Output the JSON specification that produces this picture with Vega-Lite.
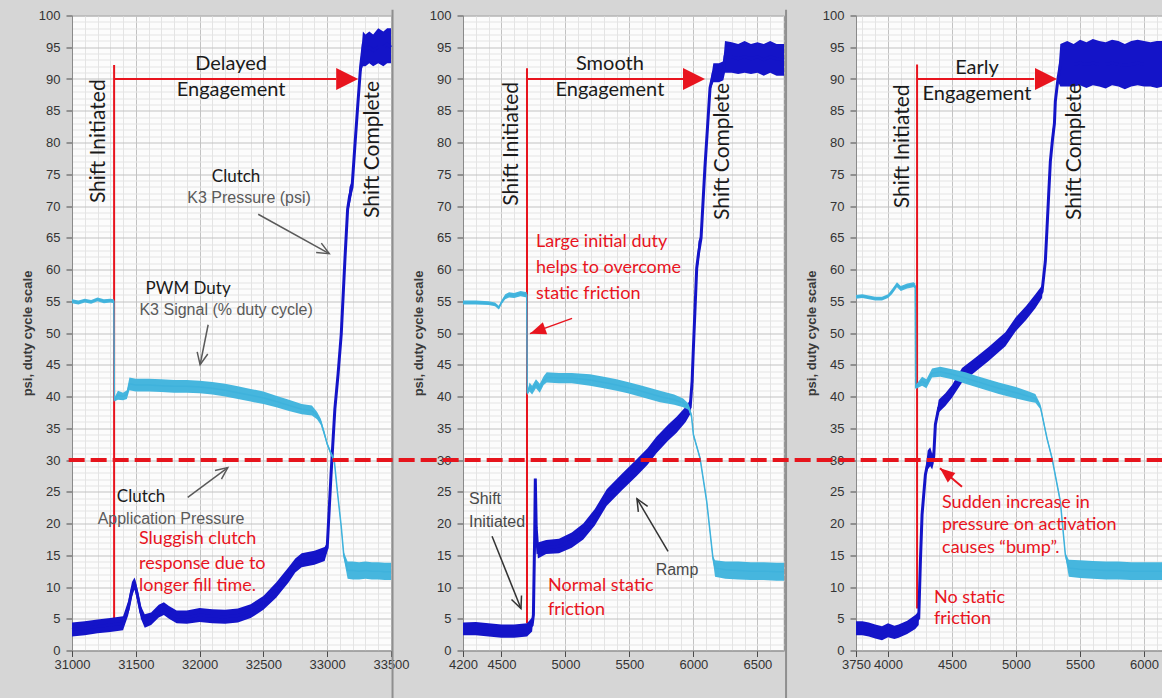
{
"$schema": "https://vega.github.io/schema/vega-lite/v6.json",
"background": "#d6d6d6",
"padding": {"left": 20, "top": 7.5, "right": 0, "bottom": 0},
"spacing": 72,
"bounds": "flush",
"config": {
  "view": {"fill": "#fcfcfc", "stroke": "#9a9a9a", "strokeWidth": 1},
  "axis": {"domainColor": "#8a8a8a", "tickColor": "#4a4a4a", "labelColor": "#333333", "labelFont": "Liberation Sans", "labelFontSize": 13, "titleFont": "Liberation Sans", "titleFontSize": 13, "titleFontWeight": "bold", "titleColor": "#3a3a3a", "labelOverlap": false, "labelFlush": false, "grid": true, "gridWidth": 1, "tickSize": 6},
  "axisY": {"labelPadding": 6, "titlePadding": 4},
  "axisX": {"labelPadding": 2}
},
"datasets": {
"p1p": [
{"x":31000,"y":3.3,"lo":2.2,"hi":4.4},{"x":31100,"y":3.5,"lo":2.4,"hi":4.6},{"x":31200,"y":3.8,"lo":2.7,"hi":4.9},{"x":31300,"y":4.0,"lo":2.9,"hi":5.1},{"x":31400,"y":4.3,"lo":3.2,"hi":5.4},{"x":31440,"y":6.5,"lo":5.5,"hi":7.8},{"x":31470,"y":9.5,"lo":8.5,"hi":10.8},{"x":31490,"y":10.6,"lo":9.6,"hi":11.5},{"x":31510,"y":9.0,"lo":8.0,"hi":10.0},{"x":31540,"y":6.0,"lo":5.0,"hi":7.0},{"x":31570,"y":4.6,"lo":3.6,"hi":5.7},{"x":31620,"y":5.0,"lo":4.0,"hi":6.0},{"x":31680,"y":6.2,"lo":5.2,"hi":7.2},{"x":31720,"y":6.6,"lo":5.6,"hi":7.6},{"x":31760,"y":6.0,"lo":5.0,"hi":7.0},{"x":31820,"y":5.3,"lo":4.3,"hi":6.3},{"x":31900,"y":5.2,"lo":4.2,"hi":6.3},{"x":32000,"y":5.6,"lo":4.5,"hi":6.7},{"x":32100,"y":5.4,"lo":4.3,"hi":6.5},{"x":32200,"y":5.3,"lo":4.2,"hi":6.4},{"x":32300,"y":5.5,"lo":4.4,"hi":6.6},{"x":32400,"y":6.2,"lo":5.1,"hi":7.3},{"x":32500,"y":7.5,"lo":6.4,"hi":8.6},{"x":32600,"y":9.5,"lo":8.3,"hi":10.7},{"x":32700,"y":12.0,"lo":10.8,"hi":13.2},{"x":32750,"y":13.4,"lo":12.3,"hi":14.5},{"x":32800,"y":14.2,"lo":13.1,"hi":15.3},{"x":32900,"y":14.6,"lo":13.5,"hi":15.7},{"x":32980,"y":15.2,"lo":14.1,"hi":16.3},{"x":33000,"y":16.2,"lo":15.5,"hi":17.0},{"x":33030,"y":27.7,"lo":27.2,"hi":28.2},{"x":33060,"y":38.0,"lo":37.5,"hi":38.5},{"x":33085,"y":43.5,"lo":43.0,"hi":44.0},{"x":33110,"y":49.8,"lo":49.3,"hi":50.3},{"x":33140,"y":62.0,"lo":61.5,"hi":62.5},{"x":33160,"y":69.5,"lo":69.0,"hi":70.0},{"x":33175,"y":71.5,"lo":70.0,"hi":73.0},{"x":33195,"y":73.0,"lo":72.0,"hi":74.0},{"x":33214,"y":78.6,"lo":78.1,"hi":79.1},{"x":33240,"y":86.0,"lo":85.5,"hi":86.5},{"x":33262,"y":92.0,"lo":91.0,"hi":93.0},{"x":33280,"y":95.0,"lo":92.0,"hi":97.5},{"x":33300,"y":94.5,"lo":92.0,"hi":97.0},{"x":33330,"y":95.0,"lo":92.5,"hi":97.5},{"x":33360,"y":94.5,"lo":92.0,"hi":97.0},{"x":33400,"y":95.0,"lo":92.5,"hi":98.0},{"x":33440,"y":95.0,"lo":92.0,"hi":97.5},{"x":33470,"y":95.5,"lo":92.5,"hi":98.0},{"x":33500,"y":95.0,"lo":92.5,"hi":98.0}
],
"p1d": [
{"x":31000,"y":55.0,"lo":54.7,"hi":55.3},{"x":31050,"y":54.8,"lo":54.5,"hi":55.1},{"x":31100,"y":55.1,"lo":54.8,"hi":55.4},{"x":31150,"y":54.9,"lo":54.6,"hi":55.2},{"x":31200,"y":55.3,"lo":55.0,"hi":55.6},{"x":31250,"y":55.0,"lo":54.7,"hi":55.3},{"x":31300,"y":55.1,"lo":54.8,"hi":55.4},{"x":31328,"y":55.0,"lo":54.7,"hi":55.3},{"x":31332,"y":39.5,"lo":39.2,"hi":39.8},{"x":31360,"y":40.2,"lo":39.5,"hi":40.9},{"x":31400,"y":40.0,"lo":39.4,"hi":40.6},{"x":31430,"y":40.3,"lo":39.6,"hi":41.0},{"x":31450,"y":42.0,"lo":41.0,"hi":43.0},{"x":31500,"y":41.8,"lo":40.8,"hi":42.8},{"x":31600,"y":41.8,"lo":40.8,"hi":42.8},{"x":31700,"y":41.7,"lo":40.7,"hi":42.7},{"x":31800,"y":41.6,"lo":40.6,"hi":42.6},{"x":31900,"y":41.6,"lo":40.6,"hi":42.6},{"x":32000,"y":41.5,"lo":40.5,"hi":42.5},{"x":32100,"y":41.3,"lo":40.3,"hi":42.3},{"x":32200,"y":41.0,"lo":40.0,"hi":42.0},{"x":32300,"y":40.6,"lo":39.6,"hi":41.6},{"x":32400,"y":40.2,"lo":39.2,"hi":41.2},{"x":32500,"y":39.8,"lo":38.8,"hi":40.8},{"x":32600,"y":39.2,"lo":38.3,"hi":40.1},{"x":32700,"y":38.6,"lo":37.7,"hi":39.5},{"x":32800,"y":38.0,"lo":37.2,"hi":38.8},{"x":32880,"y":37.8,"lo":37.0,"hi":38.6},{"x":32920,"y":37.0,"lo":36.4,"hi":37.6},{"x":32950,"y":36.0,"lo":35.5,"hi":36.5},{"x":32980,"y":34.0,"lo":33.6,"hi":34.4},{"x":33000,"y":32.5,"lo":32.2,"hi":32.8},{"x":33030,"y":31.0,"lo":30.7,"hi":31.3},{"x":33055,"y":30.0,"lo":29.7,"hi":30.3},{"x":33080,"y":25.0,"lo":24.7,"hi":25.3},{"x":33110,"y":19.5,"lo":19.2,"hi":19.8},{"x":33130,"y":15.0,"lo":14.5,"hi":15.5},{"x":33160,"y":12.6,"lo":11.3,"hi":14.0},{"x":33200,"y":12.6,"lo":11.2,"hi":14.0},{"x":33250,"y":12.5,"lo":11.2,"hi":13.9},{"x":33300,"y":12.6,"lo":11.3,"hi":14.0},{"x":33350,"y":12.5,"lo":11.2,"hi":13.9},{"x":33400,"y":12.5,"lo":11.2,"hi":13.9},{"x":33450,"y":12.4,"lo":11.1,"hi":13.8},{"x":33500,"y":12.4,"lo":11.1,"hi":13.8}
],
"p2p": [
{"x":4200,"y":3.4,"lo":2.4,"hi":4.4},{"x":4300,"y":3.4,"lo":2.4,"hi":4.5},{"x":4400,"y":3.2,"lo":2.2,"hi":4.3},{"x":4500,"y":3.0,"lo":2.0,"hi":4.1},{"x":4600,"y":3.0,"lo":2.0,"hi":4.1},{"x":4700,"y":3.2,"lo":2.2,"hi":4.3},{"x":4740,"y":4.0,"lo":3.0,"hi":5.2},{"x":4750,"y":5.6,"lo":5.2,"hi":6.0},{"x":4760,"y":18.0,"lo":17.6,"hi":18.4},{"x":4765,"y":27.1,"lo":26.8,"hi":27.4},{"x":4772,"y":19.3,"lo":18.8,"hi":19.8},{"x":4785,"y":15.5,"lo":14.5,"hi":17.0},{"x":4850,"y":16.2,"lo":15.2,"hi":17.4},{"x":4950,"y":16.4,"lo":15.3,"hi":17.6},{"x":5050,"y":17.3,"lo":16.2,"hi":18.6},{"x":5140,"y":18.7,"lo":17.5,"hi":20.0},{"x":5230,"y":21.0,"lo":19.7,"hi":22.3},{"x":5323,"y":24.0,"lo":22.8,"hi":25.4},{"x":5440,"y":26.5,"lo":25.2,"hi":27.8},{"x":5557,"y":28.8,"lo":27.5,"hi":30.1},{"x":5640,"y":30.5,"lo":29.2,"hi":31.8},{"x":5713,"y":32.4,"lo":31.1,"hi":33.7},{"x":5800,"y":34.2,"lo":33.0,"hi":35.5},{"x":5869,"y":35.5,"lo":34.3,"hi":36.8},{"x":5940,"y":37.2,"lo":36.0,"hi":38.4},{"x":5975,"y":38.3,"lo":37.2,"hi":39.5},{"x":5990,"y":42.4,"lo":41.9,"hi":42.9},{"x":6000,"y":47.6,"lo":47.1,"hi":48.1},{"x":6026,"y":60.2,"lo":59.7,"hi":60.7},{"x":6040,"y":62.5,"lo":61.0,"hi":64.5},{"x":6060,"y":65.0,"lo":64.5,"hi":65.5},{"x":6090,"y":76.0,"lo":75.5,"hi":76.5},{"x":6130,"y":88.6,"lo":88.1,"hi":89.1},{"x":6156,"y":91.0,"lo":89.5,"hi":92.5},{"x":6200,"y":91.0,"lo":89.5,"hi":92.5},{"x":6234,"y":91.3,"lo":89.8,"hi":92.8},{"x":6247,"y":93.5,"lo":91.0,"hi":96.0},{"x":6300,"y":93.5,"lo":91.0,"hi":95.8},{"x":6350,"y":93.2,"lo":90.8,"hi":95.5},{"x":6400,"y":93.5,"lo":91.0,"hi":96.0},{"x":6450,"y":93.2,"lo":90.8,"hi":95.5},{"x":6500,"y":93.5,"lo":91.0,"hi":95.8},{"x":6550,"y":93.0,"lo":90.5,"hi":95.5},{"x":6600,"y":93.5,"lo":91.0,"hi":96.0},{"x":6650,"y":93.2,"lo":90.5,"hi":95.5},{"x":6708,"y":93.0,"lo":90.5,"hi":95.5}
],
"p2d": [
{"x":4200,"y":54.8,"lo":54.5,"hi":55.1},{"x":4300,"y":54.8,"lo":54.5,"hi":55.1},{"x":4400,"y":54.7,"lo":54.4,"hi":55.0},{"x":4450,"y":54.5,"lo":54.2,"hi":54.8},{"x":4480,"y":54.0,"lo":53.7,"hi":54.3},{"x":4500,"y":54.8,"lo":54.5,"hi":55.1},{"x":4530,"y":55.7,"lo":55.3,"hi":56.1},{"x":4560,"y":56.0,"lo":55.6,"hi":56.4},{"x":4600,"y":55.9,"lo":55.5,"hi":56.3},{"x":4650,"y":56.2,"lo":55.8,"hi":56.6},{"x":4698,"y":56.0,"lo":55.6,"hi":56.4},{"x":4702,"y":40.5,"lo":40.2,"hi":40.8},{"x":4720,"y":41.5,"lo":40.8,"hi":42.2},{"x":4740,"y":41.0,"lo":40.3,"hi":41.7},{"x":4770,"y":42.0,"lo":41.3,"hi":42.7},{"x":4800,"y":41.3,"lo":40.6,"hi":42.0},{"x":4830,"y":42.5,"lo":41.8,"hi":43.2},{"x":4854,"y":43.0,"lo":42.2,"hi":43.8},{"x":4950,"y":42.9,"lo":42.1,"hi":43.7},{"x":5050,"y":42.9,"lo":42.1,"hi":43.7},{"x":5192,"y":42.6,"lo":41.7,"hi":43.5},{"x":5300,"y":42.2,"lo":41.3,"hi":43.1},{"x":5400,"y":41.8,"lo":40.9,"hi":42.7},{"x":5487,"y":41.4,"lo":40.5,"hi":42.3},{"x":5600,"y":40.8,"lo":39.9,"hi":41.7},{"x":5739,"y":40.0,"lo":39.1,"hi":40.9},{"x":5850,"y":39.5,"lo":38.7,"hi":40.3},{"x":5920,"y":39.0,"lo":38.3,"hi":39.7},{"x":5961,"y":38.4,"lo":37.9,"hi":38.9},{"x":5985,"y":37.0,"lo":36.6,"hi":37.4},{"x":6000,"y":34.0,"lo":33.7,"hi":34.3},{"x":6052,"y":30.3,"lo":30.0,"hi":30.6},{"x":6104,"y":23.5,"lo":23.2,"hi":23.8},{"x":6153,"y":14.5,"lo":14.1,"hi":14.9},{"x":6169,"y":13.0,"lo":11.6,"hi":14.2},{"x":6250,"y":12.7,"lo":11.3,"hi":14.0},{"x":6350,"y":12.6,"lo":11.2,"hi":14.0},{"x":6450,"y":12.5,"lo":11.1,"hi":13.9},{"x":6550,"y":12.5,"lo":11.1,"hi":13.9},{"x":6650,"y":12.4,"lo":11.0,"hi":13.8},{"x":6708,"y":12.4,"lo":11.0,"hi":13.8}
],
"p3p": [
{"x":3750,"y":3.5,"lo":2.4,"hi":4.6},{"x":3800,"y":3.5,"lo":2.4,"hi":4.6},{"x":3850,"y":3.3,"lo":2.2,"hi":4.4},{"x":3900,"y":3.0,"lo":1.9,"hi":4.1},{"x":3953,"y":2.6,"lo":1.6,"hi":3.8},{"x":4000,"y":3.2,"lo":2.1,"hi":4.3},{"x":4050,"y":2.8,"lo":1.8,"hi":3.9},{"x":4083,"y":3.0,"lo":2.0,"hi":4.1},{"x":4150,"y":3.6,"lo":2.6,"hi":4.7},{"x":4213,"y":4.5,"lo":3.4,"hi":5.6},{"x":4240,"y":5.1,"lo":4.0,"hi":6.2},{"x":4253,"y":14.0,"lo":13.5,"hi":14.5},{"x":4266,"y":21.4,"lo":20.9,"hi":21.9},{"x":4292,"y":27.7,"lo":27.2,"hi":28.2},{"x":4310,"y":29.5,"lo":28.5,"hi":31.5},{"x":4330,"y":30.5,"lo":29.0,"hi":32.0},{"x":4345,"y":30.0,"lo":28.5,"hi":31.0},{"x":4357,"y":30.5,"lo":29.5,"hi":31.5},{"x":4370,"y":35.6,"lo":35.0,"hi":36.2},{"x":4396,"y":38.2,"lo":37.5,"hi":39.5},{"x":4448,"y":39.5,"lo":38.5,"hi":40.5},{"x":4500,"y":40.8,"lo":39.8,"hi":41.8},{"x":4578,"y":43.3,"lo":42.2,"hi":44.5},{"x":4682,"y":45.0,"lo":43.9,"hi":46.1},{"x":4786,"y":46.7,"lo":45.6,"hi":47.8},{"x":4917,"y":49.0,"lo":47.9,"hi":50.1},{"x":4995,"y":51.3,"lo":50.2,"hi":52.4},{"x":5080,"y":53.2,"lo":52.1,"hi":54.3},{"x":5151,"y":55.0,"lo":53.9,"hi":56.1},{"x":5203,"y":56.5,"lo":55.5,"hi":57.5},{"x":5229,"y":61.3,"lo":60.8,"hi":61.8},{"x":5242,"y":66.5,"lo":66.0,"hi":67.0},{"x":5255,"y":71.8,"lo":71.3,"hi":72.3},{"x":5268,"y":77.0,"lo":76.5,"hi":77.5},{"x":5285,"y":80.5,"lo":79.5,"hi":82.0},{"x":5300,"y":83.0,"lo":82.5,"hi":83.5},{"x":5307,"y":86.5,"lo":86.0,"hi":87.0},{"x":5328,"y":90.1,"lo":89.6,"hi":90.6},{"x":5346,"y":92.3,"lo":88.8,"hi":95.5},{"x":5400,"y":92.3,"lo":88.8,"hi":96.0},{"x":5450,"y":92.3,"lo":88.8,"hi":95.5},{"x":5500,"y":92.5,"lo":89.0,"hi":96.2},{"x":5550,"y":92.3,"lo":88.6,"hi":95.8},{"x":5600,"y":92.5,"lo":89.0,"hi":96.3},{"x":5650,"y":92.3,"lo":88.8,"hi":96.0},{"x":5700,"y":92.3,"lo":88.5,"hi":95.8},{"x":5750,"y":92.5,"lo":89.0,"hi":96.2},{"x":5800,"y":92.3,"lo":88.8,"hi":96.0},{"x":5850,"y":92.2,"lo":88.4,"hi":95.5},{"x":5900,"y":92.3,"lo":88.8,"hi":96.0},{"x":5950,"y":92.5,"lo":89.0,"hi":96.2},{"x":6000,"y":92.3,"lo":88.8,"hi":96.0},{"x":6050,"y":92.3,"lo":88.8,"hi":95.8},{"x":6100,"y":92.3,"lo":88.6,"hi":96.0},{"x":6148,"y":92.3,"lo":88.8,"hi":96.0}
],
"p3d": [
{"x":3750,"y":55.7,"lo":55.4,"hi":56.0},{"x":3800,"y":55.8,"lo":55.5,"hi":56.1},{"x":3850,"y":55.6,"lo":55.3,"hi":55.9},{"x":3900,"y":55.4,"lo":55.1,"hi":55.7},{"x":3953,"y":55.4,"lo":55.1,"hi":55.7},{"x":4000,"y":55.8,"lo":55.5,"hi":56.1},{"x":4031,"y":56.5,"lo":56.1,"hi":56.9},{"x":4070,"y":57.6,"lo":57.2,"hi":58.0},{"x":4100,"y":57.0,"lo":56.6,"hi":57.4},{"x":4150,"y":57.4,"lo":57.0,"hi":57.8},{"x":4200,"y":57.6,"lo":57.2,"hi":58.0},{"x":4213,"y":57.4,"lo":57.0,"hi":57.8},{"x":4217,"y":41.5,"lo":41.2,"hi":41.8},{"x":4266,"y":42.4,"lo":41.7,"hi":43.1},{"x":4300,"y":42.0,"lo":41.3,"hi":42.7},{"x":4344,"y":43.7,"lo":43.0,"hi":44.4},{"x":4409,"y":43.9,"lo":43.1,"hi":44.7},{"x":4500,"y":43.5,"lo":42.7,"hi":44.3},{"x":4604,"y":42.9,"lo":42.0,"hi":43.8},{"x":4700,"y":42.3,"lo":41.4,"hi":43.2},{"x":4865,"y":41.3,"lo":40.4,"hi":42.2},{"x":5000,"y":40.6,"lo":39.7,"hi":41.5},{"x":5100,"y":40.0,"lo":39.2,"hi":40.8},{"x":5151,"y":39.7,"lo":39.0,"hi":40.4},{"x":5190,"y":38.4,"lo":38.0,"hi":38.8},{"x":5242,"y":33.4,"lo":33.1,"hi":33.7},{"x":5281,"y":30.3,"lo":30.0,"hi":30.6},{"x":5346,"y":23.5,"lo":23.2,"hi":23.8},{"x":5385,"y":15.1,"lo":14.8,"hi":15.4},{"x":5412,"y":13.0,"lo":11.6,"hi":14.3},{"x":5500,"y":12.8,"lo":11.4,"hi":14.2},{"x":5600,"y":12.7,"lo":11.3,"hi":14.1},{"x":5700,"y":12.6,"lo":11.2,"hi":14.0},{"x":5800,"y":12.6,"lo":11.2,"hi":14.0},{"x":5900,"y":12.5,"lo":11.1,"hi":13.9},{"x":6000,"y":12.5,"lo":11.1,"hi":13.9},{"x":6100,"y":12.5,"lo":11.1,"hi":13.9},{"x":6148,"y":12.5,"lo":11.1,"hi":13.9}
]
},
"hconcat": [
{
"width": 319, "height": 635,
"encoding": {
  "x": {"field": "x", "type": "quantitative", "scale": {"domain": [31000, 33500]}, "axis": {"title": null, "values": [31000,31100,31200,31300,31400,31500,31600,31700,31800,31900,32000,32100,32200,32300,32400,32500,32600,32700,32800,32900,33000,33100,33200,33300,33400,33500], "format": "d", "labelExpr": "datum.value % 500 === 0 ? datum.label : ''", "tickOpacity": {"condition": {"test": "datum.value % 500 === 0", "value": 1}, "value": 0}, "gridColor": {"condition": {"test": "datum.value % 500 === 0", "value": "#c2c2c2"}, "value": "#e4e4e4"}}},
  "y": {"field": "y", "type": "quantitative", "scale": {"domain": [0, 100]}, "title": "psi, duty cycle scale", "axis": {"tickCount": 100, "labelExpr": "datum.value % 5 === 0 ? datum.label : ''", "tickOpacity": {"condition": {"test": "datum.value % 5 === 0", "value": 1}, "value": 0}, "gridColor": {"condition": {"test": "datum.value % 5 === 0", "value": "#c2c2c2"}, "value": "#e4e4e4"}}}
},
"layer": [
  {"data": {"values": [{"x": 33512, "y": -7.7, "y2": 100.9}]}, "mark": {"type": "rule", "color": "#8f8f8f", "strokeWidth": 2}, "encoding": {"y2": {"field": "y2"}}},
  {"data": {"values": [{"x": 31330, "y": 5.1, "y2": 92.2}]}, "mark": {"type": "rule", "color": "#e8141e", "strokeWidth": 2}, "encoding": {"y2": {"field": "y2"}}},
  {"data": {"name": "p1p"}, "mark": {"type": "area", "color": "#1414c8", "opacity": 1}, "encoding": {"y": {"field": "lo", "type": "quantitative", "scale": {"domain": [0, 100]}, "title": "psi, duty cycle scale"}, "y2": {"field": "hi"}}},
  {"data": {"name": "p1p"}, "mark": {"type": "line", "color": "#1414c8", "strokeWidth": 3}, "encoding": {}},
  {"data": {"name": "p1d"}, "mark": {"type": "area", "color": "#46b6de", "opacity": 1}, "encoding": {"y": {"field": "lo", "type": "quantitative", "scale": {"domain": [0, 100]}, "title": "psi, duty cycle scale"}, "y2": {"field": "hi"}}},
  {"data": {"name": "p1d"}, "mark": {"type": "line", "color": "#3fb2dc", "strokeWidth": 1.5}, "encoding": {}},
  {"data": {"values": [{"x": 31330, "x2": 33071, "y": 90}]}, "mark": {"type": "rule", "color": "#e8141e", "strokeWidth": 2}, "encoding": {"x2": {"field": "x2"}}},
  {"data": {"values": [{"x": 33243, "y": 90}]}, "mark": {"type": "point", "shape": "M0,0L-2,-1L-2,1Z", "filled": true, "color": "#e8141e", "size": 484, "opacity": 1, "strokeWidth": 0}, "encoding": {}},
  {"data": {"values": [{"x": 32459, "y": 68.7, "x2": 33016, "y2": 62.5}, {"x": 32067, "y": 51.3, "x2": 32004, "y2": 45.0}, {"x": 31907, "y": 24.1, "x2": 32221, "y2": 28.8}]}, "mark": {"type": "rule", "color": "#5a5a5a", "strokeWidth": 1.5}, "encoding": {"x2": {"field": "x2"}, "y2": {"field": "y2"}}},
  {"data": {"values": [{"x": 33016, "y": 62.5}]}, "mark": {"type": "point", "shape": "M-2,-0.9L0,0L-2,0.9", "filled": false, "color": "#5a5a5a", "strokeWidth": 1.5, "size": 144, "angle": 28.8, "opacity": 1}, "encoding": {}},
  {"data": {"values": [{"x": 32004, "y": 45.0}]}, "mark": {"type": "point", "shape": "M-2,-0.9L0,0L-2,0.9", "filled": false, "color": "#5a5a5a", "strokeWidth": 1.5, "size": 144, "angle": 101.3, "opacity": 1}, "encoding": {}},
  {"data": {"values": [{"x": 32221, "y": 28.8}]}, "mark": {"type": "point", "shape": "M-2,-0.9L0,0L-2,0.9", "filled": false, "color": "#5a5a5a", "strokeWidth": 1.5, "size": 144, "angle": -36.9, "opacity": 1}, "encoding": {}},
  {"data": {"values": [{"x": 32247, "y": 92.4, "t": "Delayed"}, {"x": 32247, "y": 88.2, "t": "Engagement"}]}, "mark": {"type": "text", "font": "Lato", "fontSize": 20, "color": "#1a1a1a", "align": "center", "baseline": "middle"}, "encoding": {"text": {"field": "t"}}},
  {"data": {"values": [{"x": 31212, "y": 80.2, "t": "Shift Initiated"}, {"x": 33361, "y": 78.9, "t": "Shift Complete"}]}, "mark": {"type": "text", "font": "Lato", "fontSize": 21, "color": "#1a1a1a", "align": "center", "baseline": "middle", "angle": 270}, "encoding": {"text": {"field": "t"}}},
  {"data": {"values": [{"x": 32286, "y": 74.6, "t": "Clutch"}, {"x": 31910, "y": 57.0, "t": "PWM Duty"}, {"x": 31541, "y": 24.1, "t": "Clutch"}]}, "mark": {"type": "text", "font": "Lato", "fontSize": 17, "color": "#1a1a1a", "align": "center", "baseline": "middle"}, "encoding": {"text": {"field": "t"}}},
  {"data": {"values": [{"x": 32388, "y": 71.2, "t": "K3 Pressure (psi)"}, {"x": 32208, "y": 53.7, "t": "K3 Signal (% duty cycle)"}, {"x": 31776, "y": 20.7, "t": "Application Pressure"}]}, "mark": {"type": "text", "font": "Liberation Sans", "fontSize": 16, "color": "#5a5a5a", "align": "center", "baseline": "middle"}, "encoding": {"text": {"field": "t"}}},
  {"data": {"values": [{"x": 31525, "y": 17.5, "t": "Sluggish clutch"}, {"x": 31525, "y": 13.7, "t": "response due to"}, {"x": 31525, "y": 10.1, "t": "longer fill time."}]}, "mark": {"type": "text", "font": "Lato", "fontSize": 18, "color": "#e8141e", "align": "left", "baseline": "middle"}, "encoding": {"text": {"field": "t"}}}
]
},
{
"width": 321, "height": 635,
"encoding": {
  "x": {"field": "x", "type": "quantitative", "scale": {"domain": [4200, 6708]}, "axis": {"title": null, "values": [4200,4300,4400,4500,4600,4700,4800,4900,5000,5100,5200,5300,5400,5500,5600,5700,5800,5900,6000,6100,6200,6300,6400,6500,6600,6700], "format": "d", "labelExpr": "datum.value % 500 === 0 || datum.value === 4200 ? datum.label : ''", "tickOpacity": {"condition": {"test": "datum.value % 500 === 0 || datum.value === 4200", "value": 1}, "value": 0}, "gridColor": {"condition": {"test": "datum.value % 500 === 0", "value": "#c2c2c2"}, "value": "#e4e4e4"}}},
  "y": {"field": "y", "type": "quantitative", "scale": {"domain": [0, 100]}, "title": "psi, duty cycle scale", "axis": {"tickCount": 100, "labelExpr": "datum.value % 5 === 0 ? datum.label : ''", "tickOpacity": {"condition": {"test": "datum.value % 5 === 0", "value": 1}, "value": 0}, "gridColor": {"condition": {"test": "datum.value % 5 === 0", "value": "#c2c2c2"}, "value": "#e4e4e4"}}}
},
"layer": [
  {"data": {"values": [{"x": 6724, "y": -7.7, "y2": 100.9}]}, "mark": {"type": "rule", "color": "#8f8f8f", "strokeWidth": 2}, "encoding": {"y2": {"field": "y2"}}},
  {"data": {"values": [{"x": 4700, "y": 4.3, "y2": 91.7}]}, "mark": {"type": "rule", "color": "#e8141e", "strokeWidth": 2}, "encoding": {"y2": {"field": "y2"}}},
  {"data": {"name": "p2p"}, "mark": {"type": "area", "color": "#1414c8", "opacity": 1}, "encoding": {"y": {"field": "lo", "type": "quantitative", "scale": {"domain": [0, 100]}, "title": "psi, duty cycle scale"}, "y2": {"field": "hi"}}},
  {"data": {"name": "p2p"}, "mark": {"type": "line", "color": "#1414c8", "strokeWidth": 3}, "encoding": {}},
  {"data": {"name": "p2d"}, "mark": {"type": "area", "color": "#46b6de", "opacity": 1}, "encoding": {"y": {"field": "lo", "type": "quantitative", "scale": {"domain": [0, 100]}, "title": "psi, duty cycle scale"}, "y2": {"field": "hi"}}},
  {"data": {"name": "p2d"}, "mark": {"type": "line", "color": "#3fb2dc", "strokeWidth": 1.5}, "encoding": {}},
  {"data": {"values": [{"x": 4700, "x2": 5919, "y": 90}]}, "mark": {"type": "rule", "color": "#e8141e", "strokeWidth": 2}, "encoding": {"x2": {"field": "x2"}}},
  {"data": {"values": [{"x": 6091, "y": 90}]}, "mark": {"type": "point", "shape": "M0,0L-2,-1L-2,1Z", "filled": true, "color": "#e8141e", "size": 484, "opacity": 1, "strokeWidth": 0}, "encoding": {}},
  {"data": {"values": [{"x": 5052, "y": 52.3, "x2": 4723, "y2": 49.9}]}, "mark": {"type": "rule", "color": "#e8141e", "strokeWidth": 1.5}, "encoding": {"x2": {"field": "x2"}, "y2": {"field": "y2"}}},
  {"data": {"values": [{"x": 4723, "y": 49.9}]}, "mark": {"type": "point", "shape": "M0,0L-2,-0.8L-2,0.8Z", "filled": true, "color": "#e8141e", "size": 256, "angle": 160.3, "opacity": 1, "strokeWidth": 0}, "encoding": {}},
  {"data": {"values": [{"x": 4427, "y": 18.0, "x2": 4653, "y2": 6.6}, {"x": 5802, "y": 15.6, "x2": 5559, "y2": 23.9}]}, "mark": {"type": "rule", "color": "#333333", "strokeWidth": 1.5}, "encoding": {"x2": {"field": "x2"}, "y2": {"field": "y2"}}},
  {"data": {"values": [{"x": 4653, "y": 6.6}]}, "mark": {"type": "point", "shape": "M-2,-0.9L0,0L-2,0.9", "filled": false, "color": "#333333", "strokeWidth": 1.5, "size": 144, "angle": 68.1, "opacity": 1}, "encoding": {}},
  {"data": {"values": [{"x": 5559, "y": 23.9}]}, "mark": {"type": "point", "shape": "M-2,-0.9L0,0L-2,0.9", "filled": false, "color": "#333333", "strokeWidth": 1.5, "size": 144, "angle": 239.7, "opacity": 1}, "encoding": {}},
  {"data": {"values": [{"x": 5348, "y": 92.4, "t": "Smooth"}, {"x": 5348, "y": 88.2, "t": "Engagement"}]}, "mark": {"type": "text", "font": "Lato", "fontSize": 20, "color": "#1a1a1a", "align": "center", "baseline": "middle"}, "encoding": {"text": {"field": "t"}}},
  {"data": {"values": [{"x": 4583, "y": 79.8, "t": "Shift Initiated"}, {"x": 6231, "y": 78.6, "t": "Shift Complete"}]}, "mark": {"type": "text", "font": "Lato", "fontSize": 21, "color": "#1a1a1a", "align": "center", "baseline": "middle", "angle": 270}, "encoding": {"text": {"field": "t"}}},
  {"data": {"values": [{"x": 4247, "y": 23.8, "t": "Shift"}, {"x": 4247, "y": 20.3, "t": "Initiated"}]}, "mark": {"type": "text", "font": "Liberation Sans", "fontSize": 16, "color": "#4a4a4a", "align": "left", "baseline": "middle"}, "encoding": {"text": {"field": "t"}}},
  {"data": {"values": [{"x": 5872, "y": 12.7, "t": "Ramp"}]}, "mark": {"type": "text", "font": "Liberation Sans", "fontSize": 16, "color": "#4a4a4a", "align": "center", "baseline": "middle"}, "encoding": {"text": {"field": "t"}}},
  {"data": {"values": [{"x": 4770, "y": 64.4, "t": "Large initial duty"}, {"x": 4770, "y": 60.2, "t": "helps to overcome"}, {"x": 4770, "y": 56.1, "t": "static friction"}, {"x": 4864, "y": 10.2, "t": "Normal static"}, {"x": 4864, "y": 6.3, "t": "friction"}]}, "mark": {"type": "text", "font": "Lato", "fontSize": 18, "color": "#e8141e", "align": "left", "baseline": "middle"}, "encoding": {"text": {"field": "t"}}}
]
},
{
"width": 307, "height": 635,
"encoding": {
  "x": {"field": "x", "type": "quantitative", "scale": {"domain": [3750, 6148]}, "axis": {"title": null, "values": [3750,3800,3900,4000,4100,4200,4300,4400,4500,4600,4700,4800,4900,5000,5100,5200,5300,5400,5500,5600,5700,5800,5900,6000,6100], "format": "d", "labelExpr": "datum.value % 500 === 0 || datum.value === 3750 ? datum.label : ''", "tickOpacity": {"condition": {"test": "datum.value % 500 === 0 || datum.value === 3750", "value": 1}, "value": 0}, "gridColor": {"condition": {"test": "datum.value % 500 === 0", "value": "#c2c2c2"}, "value": "#e4e4e4"}}},
  "y": {"field": "y", "type": "quantitative", "scale": {"domain": [0, 100]}, "title": "psi, duty cycle scale", "axis": {"tickCount": 100, "labelExpr": "datum.value % 5 === 0 ? datum.label : ''", "tickOpacity": {"condition": {"test": "datum.value % 5 === 0", "value": 1}, "value": 0}, "gridColor": {"condition": {"test": "datum.value % 5 === 0", "value": "#c2c2c2"}, "value": "#e4e4e4"}}}
},
"layer": [
  {"data": {"values": [{"x": 4227, "y": 6.6, "y2": 92.3}]}, "mark": {"type": "rule", "color": "#e8141e", "strokeWidth": 2}, "encoding": {"y2": {"field": "y2"}}},
  {"data": {"name": "p3p"}, "mark": {"type": "area", "color": "#1414c8", "opacity": 1}, "encoding": {"y": {"field": "lo", "type": "quantitative", "scale": {"domain": [0, 100]}, "title": "psi, duty cycle scale"}, "y2": {"field": "hi"}}},
  {"data": {"name": "p3p"}, "mark": {"type": "line", "color": "#1414c8", "strokeWidth": 3}, "encoding": {}},
  {"data": {"name": "p3d"}, "mark": {"type": "area", "color": "#46b6de", "opacity": 1}, "encoding": {"y": {"field": "lo", "type": "quantitative", "scale": {"domain": [0, 100]}, "title": "psi, duty cycle scale"}, "y2": {"field": "hi"}}},
  {"data": {"name": "p3d"}, "mark": {"type": "line", "color": "#3fb2dc", "strokeWidth": 1.5}, "encoding": {}},
  {"data": {"values": [{"x": 4227, "x2": 5141, "y": 90}]}, "mark": {"type": "rule", "color": "#e8141e", "strokeWidth": 2}, "encoding": {"x2": {"field": "x2"}}},
  {"data": {"values": [{"x": 5320, "y": 90}]}, "mark": {"type": "point", "shape": "M0,0L-2,-1L-2,1Z", "filled": true, "color": "#e8141e", "size": 484, "opacity": 1, "strokeWidth": 0}, "encoding": {}},
  {"data": {"values": [{"x": 4578, "y": 25.8, "x2": 4406, "y2": 28.7}]}, "mark": {"type": "rule", "color": "#e8141e", "strokeWidth": 2}, "encoding": {"x2": {"field": "x2"}, "y2": {"field": "y2"}}},
  {"data": {"values": [{"x": 4406, "y": 28.7}]}, "mark": {"type": "point", "shape": "M0,0L-2,-0.8L-2,0.8Z", "filled": true, "color": "#e8141e", "size": 225, "angle": 219.3, "opacity": 1, "strokeWidth": 0}, "encoding": {}},
  {"data": {"values": [{"x": 4695, "y": 91.7, "t": "Early"}, {"x": 4695, "y": 87.7, "t": "Engagement"}]}, "mark": {"type": "text", "font": "Lato", "fontSize": 20, "color": "#1a1a1a", "align": "center", "baseline": "middle"}, "encoding": {"text": {"field": "t"}}},
  {"data": {"values": [{"x": 4117, "y": 79.4, "t": "Shift Initiated"}, {"x": 5461, "y": 78.6, "t": "Shift Complete"}]}, "mark": {"type": "text", "font": "Lato", "fontSize": 21, "color": "#1a1a1a", "align": "center", "baseline": "middle", "angle": 270}, "encoding": {"text": {"field": "t"}}},
  {"data": {"values": [{"x": 4422, "y": 23.3, "t": "Sudden increase in"}, {"x": 4422, "y": 19.7, "t": "pressure on activation"}, {"x": 4422, "y": 16.1, "t": "causes “bump”."}, {"x": 4359, "y": 8.2, "t": "No static"}, {"x": 4359, "y": 4.9, "t": "friction"}]}, "mark": {"type": "text", "font": "Lato", "fontSize": 18, "color": "#e8141e", "align": "left", "baseline": "middle"}, "encoding": {"text": {"field": "t"}}},
  {"data": {"values": [{"x": -2400, "x2": 6148, "y": 30}]}, "mark": {"type": "rule", "color": "#e6141c", "strokeWidth": 4, "strokeDash": [16, 6]}, "encoding": {"x2": {"field": "x2"}}}
]
}
]
}
